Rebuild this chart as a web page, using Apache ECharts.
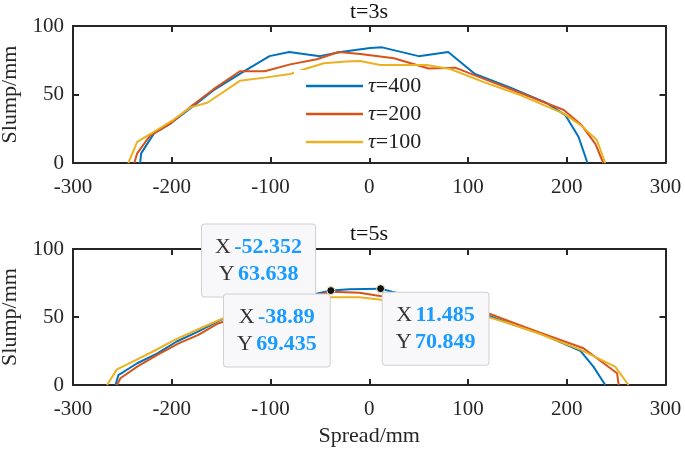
<!DOCTYPE html>
<html><head><meta charset="utf-8">
<script src="https://cdn.jsdelivr.net/npm/echarts@6/dist/echarts.min.js"></script>
<style>html,body{margin:0;padding:0;background:#fff}#c{width:685px;height:454px}</style>
</head><body><div id="c"></div>
<script>
// ---- data ----
const seriesNames = ['τ=400', 'τ=200', 'τ=100'];
const panelTitles = ['t=3s', 't=5s'];
const xTicks = [-300, -200, -100, 0, 100, 200, 300];
const yTicks = [0, 50, 100];

const top400 = [[-232,0],[-231,7],[-218,21.6],[-201,29],[-178,41.6],[-158,53],[-129,66],[-101,78],[-81,81],[-50,78],[-29,81],[1,84],[13,84.4],[50,78],[80,81],[107,65],[143,55],[180,43.6],[198.5,35],[212,19],[221,0]];
const top200 = [[-238,0],[-235,7],[-222,20],[-201,29],[-180,41.6],[-158,53.7],[-131,67],[-106,67],[-80,72],[-53,75.7],[-31,81],[-9,79.5],[25,76.5],[60,69],[87,69.6],[107,64],[150,52],[197,38.7],[215,27.7],[229,14],[237,0]];
const top100 = [[-244,0],[-235,15.5],[-222,21],[-200,30.7],[-181,40.6],[-164,44],[-131,60],[-104,62.5],[-80,65],[-65,68.6],[-46,72.8],[-23,74],[-9,74.5],[11,71.5],[58,71.5],[82,68.6],[116,59],[153,49.6],[197,36],[214,27.7],[230.5,16.8],[239,0]];

const bot400 = [[-257,0],[-254,7.3],[-235,16],[-215,23],[-195,32],[-174,39],[-151,47.8],[-120,55],[-90,61],[-60,66],[-38.89,69.435],[-20,70.4],[11.485,70.849],[23,68.6],[60,62],[100,55],[121,51],[143,45],[173,38],[213.7,25.2],[227,13.5],[239,0]];
const bot200 = [[-255.5,0],[-252,5],[-235,13.5],[-215,22],[-193,30.6],[-173,36.8],[-154,45],[-120,53],[-90,60],[-60,65],[-38,68.6],[-10,67.9],[6,66],[60,60],[100,56],[121,52.7],[143,46.5],[173,38.5],[217,27],[251,8.6],[252.6,0]];
const bot100 = [[-265.6,0],[-255.5,11.5],[-240,17],[-218,25],[-196,33.6],[-171,41.7],[-148,49],[-120,55],[-90,59],[-52.352,63.638],[-38,64.5],[-10,64.5],[10,62.8],[60,57],[100,52],[121,49.8],[143,45],[173,37.5],[213.7,26],[249,13.5],[262.6,0]];

const tipX = [-52.352, -38.89, 11.485];
const tipY = [63.638, 69.435, 70.849];

// ---- styling ----
const FONT = "'Liberation Serif','Times New Roman',serif";
const AX = '#262626';
const colors = ['#0072BD', '#D95319', '#EDB120'];
const tipOffsets = [[-59, -38], [-54, 40], [55, 40]];

const grids = [
  {left: 73, right: 19.5, top: 26, height: 137, outerBoundsMode: 'none', containLabel: false},
  {left: 73, right: 19.5, top: 249, height: 136, outerBoundsMode: 'none', containLabel: false}
];

function xAx(g, pos, showLabel, name) {
  return {
    type: 'value', gridIndex: g, position: pos, min: -300, max: 300, interval: 100,
    axisLine: {show: true, onZero: false, lineStyle: {color: AX, width: 2}},
    axisTick: {show: true, inside: true, length: 6, lineStyle: {color: AX, width: 2}},
    axisLabel: {show: showLabel, margin: 14, fontFamily: FONT, fontSize: 21, color: AX,
      formatter: v => xTicks.includes(v) ? String(v) : ''},
    splitLine: {show: false},
    name: name || '', nameLocation: 'middle', nameGap: 40,
    nameTextStyle: {fontFamily: FONT, fontSize: 22, color: AX}
  };
}
function yAx(g, pos, showLabel) {
  return {
    type: 'value', gridIndex: g, position: pos, min: 0, max: 100, interval: 50,
    axisLine: {show: true, onZero: false, lineStyle: {color: AX, width: 2}},
    axisTick: {show: true, inside: true, length: 6, lineStyle: {color: AX, width: 2}},
    axisLabel: {show: showLabel, margin: 9, fontFamily: FONT, fontSize: 21, color: AX,
      formatter: v => yTicks.includes(v) ? String(v) : ''},
    splitLine: {show: false},
    name: showLabel ? 'Slump/mm' : '', nameLocation: 'middle', nameGap: 49,
    nameTextStyle: {fontFamily: FONT, fontSize: 22, color: AX}
  };
}

function lineSeries(name, data, xi, yi, ci, extra) {
  return Object.assign({
    name: name, type: 'line', xAxisIndex: xi, yAxisIndex: yi, data: data,
    showSymbol: false, symbol: 'none', silent: true, animation: false,
    lineStyle: {color: colors[ci], width: 2}, itemStyle: {color: colors[ci]}
  }, extra || {});
}

const tipData = tipX.map((x, i) => ({
  coord: [x, tipY[i]],
  label: {offset: tipOffsets[i]}
}));

const tipSeries = {
  name: 'tips', type: 'line', xAxisIndex: 2, yAxisIndex: 2, data: [], z: 10,
  symbol: 'none', animation: false, silent: true,
  markPoint: {
    symbol: 'circle', symbolSize: 8, animation: false, silent: true,
    itemStyle: {color: '#111', borderColor: '#f3f0c8', borderWidth: 1},
    data: tipData,
    label: {
      show: true, position: 'inside',
      formatter: p => '{k|X} {v|' + p.data.coord[0] + '}\n{k|Y} {v|' + p.data.coord[1] + '}',
      backgroundColor: '#f8f8fb', borderColor: '#cfcfd4', borderWidth: 1, borderRadius: 3,
      padding: [9, 13, 9, 13], align: 'center', lineHeight: 27,
      rich: {
        k: {fontFamily: FONT, fontSize: 22, color: '#333', lineHeight: 27},
        v: {fontFamily: FONT, fontSize: 22, fontWeight: 'bold', color: '#1a9bff', lineHeight: 27}
      }
    }
  }
};

const option = {
  backgroundColor: '#fff',
  animation: false,
  grid: grids,
  title: [
    {text: panelTitles[0], left: 369, top: 1, textAlign: 'center', padding: 0,
     textStyle: {fontFamily: FONT, fontSize: 22, fontWeight: 'normal', color: '#111'}},
    {text: panelTitles[1], left: 369, top: 223, textAlign: 'center', padding: 0,
     textStyle: {fontFamily: FONT, fontSize: 22, fontWeight: 'normal', color: '#111'}}
  ],
  legend: {
    data: seriesNames, orient: 'vertical', left: 294, top: 70,
    backgroundColor: '#fff', padding: [5, 8, 5, 12],
    icon: 'rect', itemWidth: 57, itemHeight: 2.5, itemGap: 6, selectedMode: false,
    formatter: n => '{i|τ}' + n.slice(1),
    textStyle: {fontFamily: FONT, fontSize: 22, color: '#222', lineHeight: 22, padding: [0, 0, 0, 0],
      rich: {i: {fontFamily: FONT, fontSize: 22, fontStyle: 'italic', color: '#222', lineHeight: 22}}}
  },
  xAxis: [xAx(0, 'bottom', true), xAx(0, 'top', false), xAx(1, 'bottom', true, 'Spread/mm'), xAx(1, 'top', false)],
  yAxis: [yAx(0, 'left', true), yAx(0, 'right', false), yAx(1, 'left', true), yAx(1, 'right', false)],
  series: [
    lineSeries(seriesNames[0], top400, 0, 0, 0),
    lineSeries(seriesNames[1], top200, 0, 0, 1),
    lineSeries(seriesNames[2], top100, 0, 0, 2),
    lineSeries(seriesNames[0], bot400, 2, 2, 0),
    lineSeries(seriesNames[1], bot200, 2, 2, 1),
    lineSeries(seriesNames[2], bot100, 2, 2, 2),
    tipSeries
  ]
};
const chart = echarts.init(document.getElementById('c'), null, {renderer: 'canvas'});
chart.setOption(option);
</script></body></html>
